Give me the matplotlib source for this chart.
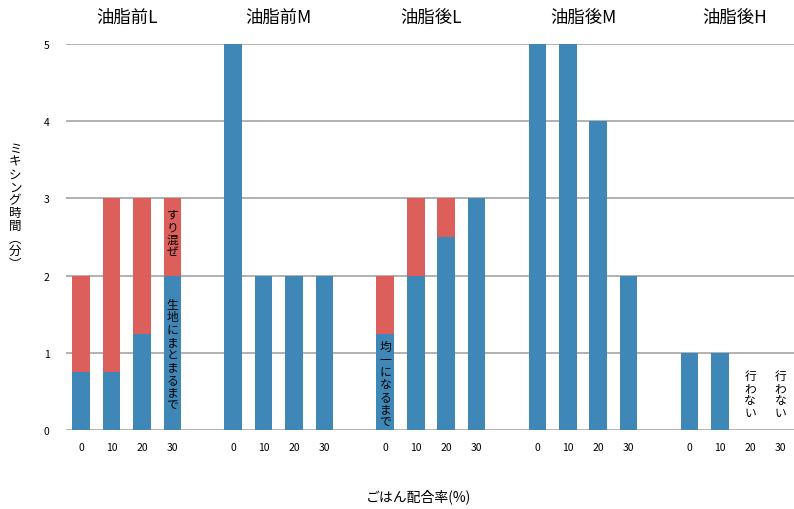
import numpy as np
import matplotlib
matplotlib.use('Agg')
import matplotlib.pyplot as plt

plt.rcParams['font.family'] = ['Noto Sans CJK JP', 'DejaVu Sans']

# 試験区ごとのミキシング時間（分）
groups = ['油脂前L', '油脂前M', '油脂後L', '油脂後M', '油脂後H']
rates = ['0', '10', '20', '30']
blue_vals = [
    [0.75, 0.75, 1.25, 2],
    [5, 2, 2, 2],
    [1.25, 2, 2.5, 3],
    [5, 5, 4, 2],
    [1, 1, 0, 0],
]
red_vals = [
    [1.25, 2.25, 1.75, 1],
    [0, 0, 0, 0],
    [0.75, 1, 0.5, 0],
    [0, 0, 0, 0],
    [0, 0, 0, 0],
]

BLUE = '#3f87b6'
RED = '#dc5f5c'


def vtext(s):
    return '\n'.join(s)


fig = plt.figure(figsize=(7.94, 5.10), dpi=100)
ax = fig.add_axes([66 / 794, 79 / 510, 728 / 794, 386 / 510])

slots = 5
xs = []
for g in range(len(groups)):
    x = g * slots + np.arange(len(rates))
    xs.append(x)
    ax.bar(x, blue_vals[g], width=0.58, color=BLUE, zorder=3)
    ax.bar(x, red_vals[g], bottom=blue_vals[g], width=0.58, color=RED, zorder=3)
    ax.text(g * slots + 1.5, 5.35, groups[g], ha='center', va='center',
            fontsize=12.5, clip_on=False)

ax.set_xticks(np.concatenate(xs))
ax.set_xticklabels(rates * len(groups), fontsize=7.5)
ax.set_xlim(-0.5, 23.44)
ax.set_ylim(0, 5)
ax.set_yticks(range(6))
ax.tick_params(axis='both', length=0, labelsize=7.5)
ax.tick_params(axis='x', pad=9)
ax.tick_params(axis='y', pad=12)
ax.yaxis.grid(True, color='#ababab', linewidth=1.3, zorder=0)
for s in ax.spines.values():
    s.set_visible(False)

# 棒の中の縦書き注記
txt = dict(ha='center', va='center', multialignment='center', fontsize=8.5,
           linespacing=0.95, zorder=4)
ax.text(xs[0][3], 2.55, vtext('すり混ぜ'), **txt)
ax.text(xs[0][3], 0.98, vtext('生地にまとまるまで'), **txt)
ax.text(xs[2][0], 0.6, vtext('均一になるまで'), **txt)
ax.text(xs[4][2], 0.47, vtext('行わない'), **txt)
ax.text(xs[4][3], 0.47, vtext('行わない'), **txt)

fig.text(15 / 794, 1 - 207 / 510, vtext('ミキシング時間︵分︶'), ha='center',
         va='center', multialignment='center', fontsize=9, linespacing=0.98)
fig.text(418 / 794, 1 - 497 / 510, 'ごはん配合率(%)', ha='center', va='center',
         fontsize=10)

fig.savefig('out.png', dpi=100)
